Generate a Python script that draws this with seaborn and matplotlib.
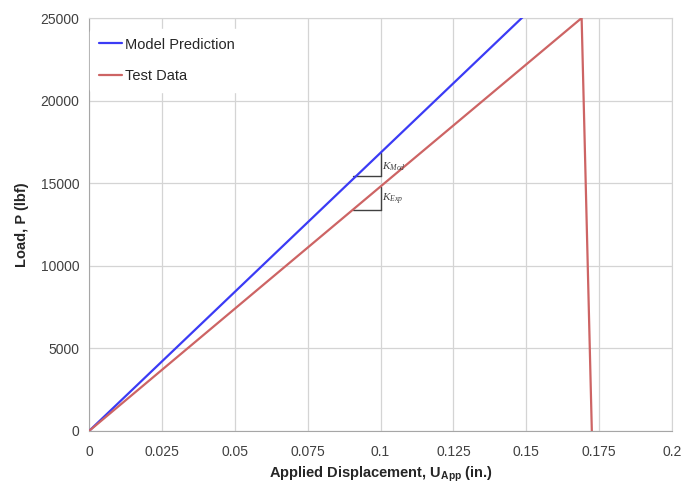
import pandas as pd
import matplotlib.pyplot as plt
import seaborn as sns

# Values
model_disp = [0.0, 0.05, 0.10, 0.15]
model_load = [0, 8420, 16840, 25260]
test_disp = [0.0, 0.05, 0.10, 0.169, 0.1725]
test_load = [0, 7400, 14800, 25000, 0]

# stiffness triangles (x start, x end, y low)
mod_tri_x = [0.0905, 0.10]
mod_tri_y = 15440
exp_tri_x = [0.0905, 0.10]
exp_tri_y = 13380

x_ticks = [0, 0.025, 0.05, 0.075, 0.1, 0.125, 0.15, 0.175, 0.2]
x_tick_labels = ["0", "0.025", "0.05", "0.075", "0.1", "0.125", "0.15", "0.175", "0.2"]
y_ticks = [0, 5000, 10000, 15000, 20000, 25000]

sns.set_style("white")
plt.rcParams['font.family'] = ['Liberation Sans', 'DejaVu Sans']
plt.rcParams['mathtext.fontset'] = 'custom'
plt.rcParams['mathtext.bf'] = 'Liberation Sans:bold'
plt.rcParams['mathtext.rm'] = 'Liberation Sans'
plt.rcParams['mathtext.it'] = 'Liberation Serif:italic'

df = pd.concat([
    pd.DataFrame({'disp': model_disp, 'load': model_load, 'series': 'Model Prediction'}),
    pd.DataFrame({'disp': test_disp, 'load': test_load, 'series': 'Test Data'}),
])

fig = plt.figure(figsize=(6.85, 4.87), dpi=100)
ax = fig.add_axes([0.130, 0.115, 0.851, 0.848])

sns.lineplot(data=df, x='disp', y='load', hue='series', sort=False,
             palette={'Model Prediction': '#3b3bf5', 'Test Data': '#cd6464'},
             linewidth=1.6, ax=ax, zorder=3)

ax.set_xlim(0, 0.2)
ax.set_ylim(0, 25000)
ax.set_xticks(x_ticks)
ax.set_xticklabels(x_tick_labels)
ax.set_yticks(y_ticks)
ax.tick_params(axis='both', labelsize=10, colors='#404040', length=0)
ax.tick_params(axis='x', pad=10)
ax.tick_params(axis='y', pad=7)
ax.grid(True, color='#d4d4d4', linewidth=0.9)
for s in ax.spines.values():
    s.set_color('#d4d4d4')
ax.spines['left'].set_color('#a6a6a6')
ax.spines['bottom'].set_color('#a6a6a6')

# stiffness triangles
model_slope = model_load[-1] / model_disp[-1]
test_slope = test_load[3] / test_disp[3]
ax.plot(mod_tri_x, [mod_tri_y, mod_tri_y], color='#404040', lw=1, zorder=2)
ax.plot([mod_tri_x[1], mod_tri_x[1]], [mod_tri_y, model_slope * mod_tri_x[1]], color='#404040', lw=1, zorder=2)
ax.plot(exp_tri_x, [exp_tri_y, exp_tri_y], color='#404040', lw=1, zorder=2)
ax.plot([exp_tri_x[1], exp_tri_x[1]], [exp_tri_y, test_slope * exp_tri_x[1]], color='#404040', lw=1, zorder=2)
ax.text(0.1005, 16000, r"$K_{Mod}$", fontsize=8, color='#404040', va='center')
ax.text(0.1005, 14000, r"$K_{Exp}$", fontsize=8, color='#404040', va='center')

ax.set_xlabel(r"Applied Displacement, $\mathbf{U_{App}}$ (in.)", fontsize=10.5,
              fontweight='bold', color='#262626', labelpad=4)
ax.set_ylabel("Load, P (lbf)", fontsize=10.5, fontweight='bold', color='#262626', labelpad=8)

leg = ax.legend(title=None, loc='upper left', frameon=True, fontsize=10.5,
                handlelength=1.6, handletextpad=0.2, labelspacing=1.2,
                borderpad=0.6, borderaxespad=0.6, bbox_to_anchor=(-0.013, 0.995))
leg.get_frame().set_facecolor('white')
leg.get_frame().set_edgecolor('white')
leg.get_frame().set_alpha(1)
for t in leg.get_texts():
    t.set_color('#262626')

plt.savefig("out.png", dpi=100)
